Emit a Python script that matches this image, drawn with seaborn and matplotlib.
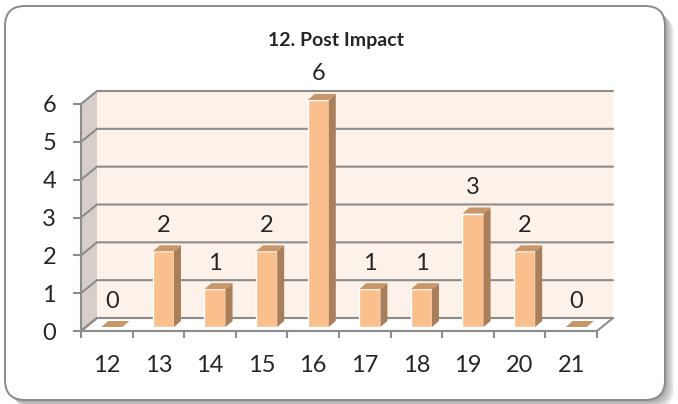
import matplotlib
matplotlib.use("Agg")
import matplotlib.pyplot as plt
import matplotlib.transforms as mtransforms
from matplotlib.patches import Polygon, FancyBboxPatch
from matplotlib.lines import Line2D
import numpy as np
import seaborn as sns

# data
ages = ["12", "13", "14", "15", "16", "17", "18", "19", "20", "21"]
counts = [0, 2, 1, 2, 6, 1, 1, 3, 2, 0]
chart_title = "12. Post Impact"

# colours
c_front = "#F9C08D"
c_side = "#A97F5B"
c_top = "#C8966B"
c_wall = "#FDF2E9"
c_side_wall = "#D7CEC9"
c_grid = "#8C8C8C"

sns.set_style("white")
plt.rcParams["font.family"] = ["Lato", "DejaVu Sans"]

W, H = 678, 404
fig = plt.figure(figsize=(W / 100, H / 100), dpi=100)
ident = mtransforms.IdentityTransform()

# rounded frame with soft shadow (kept behind the axes)
box = dict(boxstyle="round,pad=0,rounding_size=20", transform=ident)
for k in range(1, 10):
    fig.add_artist(FancyBboxPatch((5 + k, 4 - k), 660, 394, fc="#555555", ec="none",
                                  alpha=0.07, zorder=-3, **box))
fig.add_artist(FancyBboxPatch((5, 4), 660, 394, fc="white", ec="#8A8A8A", lw=1.4,
                              zorder=-2, **box))

fig.text(335.5 / W, (H - 46) / H, chart_title, ha="center", va="baseline",
         fontsize=14, fontweight="bold")

# front plane of the 3d box
ax = fig.add_axes([81 / W, 73 / H, 516 / W, 227 / H])
sns.barplot(x=ages, y=counts, color=c_front, saturation=1, width=0.41,
            errorbar=None, ax=ax, zorder=3)
bars = list(ax.patches)
ax.set_xlim(-0.5, len(ages) - 0.5)
ax.set_ylim(0, 6)
ax.set_yticks(range(7))
ax.set_xticks(np.arange(len(ages) + 1) - 0.5, minor=True)
ax.patch.set_visible(False)
ax.set_xlabel("")
ax.set_ylabel("")
for s in ["top", "right"]:
    ax.spines[s].set_visible(False)
for s in ["left", "bottom"]:
    ax.spines[s].set_color(c_grid)
    ax.spines[s].set_linewidth(1.5)
ax.tick_params(axis="y", direction="out", length=6, width=1.5, color=c_grid,
               labelsize=17, pad=12, left=True)
ax.tick_params(axis="x", which="major", length=0, labelsize=17, pad=17)
ax.tick_params(axis="x", which="minor", direction="out", length=5, width=1.5,
               color=c_grid, bottom=True)


def px(x, y):
    return ax.transData.transform((x, y))


depth = np.array([16, 13])      # front plane -> back wall
bar_off = np.array([5, 4])      # front plane -> bar front face
bar_depth = np.array([7, 6])

x0, x1 = -0.5, len(ages) - 0.5
fl0, fl6, fr0, fr6 = px(x0, 0), px(x0, 6), px(x1, 0), px(x1, 6)

back = Polygon([fl0 + depth, fr0 + depth, fr6 + depth, fl6 + depth], closed=True,
               transform=ident, fc=c_wall, ec="none", zorder=0.1, clip_on=False)
side = Polygon([fl0, fl6, fl6 + depth, fl0 + depth], closed=True,
               transform=ident, fc=c_side_wall, ec="none", zorder=0.2, clip_on=False)
floor = Polygon([fl0, fr0, fr0 + depth, fl0 + depth], closed=True,
                transform=ident, fc="white", ec=c_grid, lw=1.5, zorder=0.3, clip_on=False)
for p in (back, side, floor):
    ax.add_patch(p)

for v in range(7):
    p, q = px(x0, v), px(x1, v)
    pts = np.array([p, p + depth, q + depth])
    ax.add_line(Line2D(pts[:, 0], pts[:, 1], transform=ident, color=c_grid,
                       lw=1.5, zorder=0.5, clip_on=False))

# bars: shift front faces back a bit and add side / top faces
shift = mtransforms.ScaledTranslation(bar_off[0] / 100, bar_off[1] / 100, fig.dpi_scale_trans)
for b in bars:
    b.set_transform(ax.transData + shift)
    b.set_clip_on(False)
    bx, bw, bh = b.get_x(), b.get_width(), b.get_height()
    tl = px(bx, bh) + bar_off
    tr = px(bx + bw, bh) + bar_off
    br = px(bx + bw, 0) + bar_off
    ax.add_patch(Polygon([br, tr, tr + bar_depth, br + bar_depth], closed=True,
                         transform=ident, fc=c_side, ec="none", zorder=3, clip_on=False))
    ax.add_patch(Polygon([tl, tr, tr + bar_depth, tl + bar_depth], closed=True,
                         transform=ident, fc=c_top, ec="none", zorder=3, clip_on=False))

for i, v in enumerate(counts):
    ax.annotate(str(v), xy=(i, v), xytext=(bar_off[0], bar_off[1] + 26),
                textcoords="offset pixels", ha="center", va="center",
                fontsize=17, zorder=4, annotation_clip=False)

fig.savefig("out.png", dpi=100)
